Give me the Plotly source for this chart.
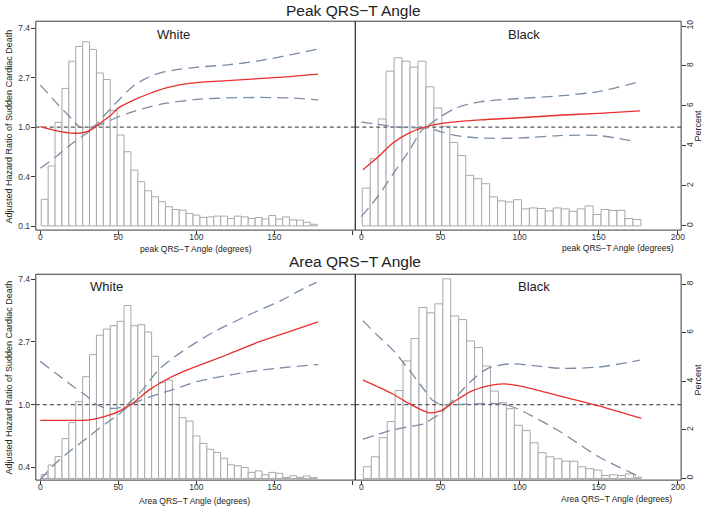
import numpy as np
import plotly.graph_objects as go

# ---------------- data ----------------
# Histograms (percent of participants per bin)
peak_white_bin_start, peak_white_bin_width = 0.6, 4.42
peak_white_pct = [1.33, 3.0, 5.18, 6.88, 8.24, 8.98, 9.21, 8.83, 7.65, 7.32,
                  5.77, 4.55, 3.71, 2.79, 2.21, 1.76, 1.46, 1.21, 0.96, 0.82,
                  0.79, 0.62, 0.54, 0.42, 0.45, 0.49, 0.49, 0.37, 0.49, 0.45,
                  0.37, 0.42, 0.35, 0.52, 0.34, 0.45, 0.30, 0.29, 0.18, 0.08]

peak_black_bin_start, peak_black_bin_width = 0.6, 5.03
peak_black_pct = [1.89, 3.36, 5.35, 7.74, 8.41, 8.24, 7.94, 8.24, 6.96, 5.9,
                  4.98, 4.17, 3.52, 2.53, 2.36, 2.11, 1.45, 1.25, 1.20, 1.31,
                  0.85, 0.90, 0.87, 0.75, 0.90, 0.85, 0.73, 0.85, 1.0, 0.57,
                  0.82, 0.77, 0.78, 0.37, 0.32]

area_white_bin_start, area_white_bin_width = 0.6, 4.42
area_white_pct = [0.16, 0.55, 0.90, 1.64, 2.30, 3.16, 4.19, 5.10, 5.90, 6.15,
                  6.29, 6.47, 7.12, 6.29, 6.33, 6.03, 5.03, 3.96, 4.05, 3.05,
                  2.50, 2.36, 1.75, 1.44, 1.20, 1.07, 0.83, 0.56, 0.52, 0.45,
                  0.25, 0.31, 0.15, 0.25, 0.21, 0.04, 0.11, 0.04, 0.10, 0.03]

area_black_bin_start, area_black_bin_width = 1.3, 5.02
area_black_pct = [0.48, 0.89, 1.68, 2.34, 3.62, 4.84, 5.76, 7.04, 6.82, 7.19,
                  8.22, 6.69, 6.54, 5.66, 5.39, 4.63, 3.6, 3.12, 2.87, 2.19,
                  1.97, 1.47, 1.06, 0.89, 0.81, 0.71, 0.71, 0.48, 0.40, 0.34,
                  0.12, 0.15, 0.12, 0.19, 0.05]

# Spline estimates: angle (degrees) and log hazard ratio
pw_hr_x = [0, 10, 20, 25, 30, 35, 40, 45, 50, 60, 70, 80, 90, 100, 120, 140, 160, 178]
pw_hr_log = [0.01, -0.07, -0.12, -0.12, -0.09, 0, 0.12, 0.235, 0.39, 0.55, 0.68, 0.79, 0.86, 0.90, 0.94, 0.98, 1.02, 1.07]
pw_up_x = [0, 10, 20, 25, 30, 35, 40, 50, 60, 70, 80, 100, 120, 140, 160, 178]
pw_up_log = [0.85, 0.5, 0.17, 0.01, -0.02, 0.03, 0.2, 0.54, 0.84, 1.02, 1.12, 1.21, 1.26, 1.34, 1.46, 1.58]
pw_lo_x = [0, 10, 20, 30, 35, 40, 50, 60, 70, 80, 100, 120, 140, 160, 178]
pw_lo_log = [-0.83, -0.6, -0.34, -0.12, 0, 0.07, 0.21, 0.32, 0.41, 0.48, 0.56, 0.59, 0.60, 0.59, 0.55]

pb_hr_x = [1, 10, 20, 30, 40, 50, 75, 100, 125, 150, 176]
pb_hr_log = [-0.86, -0.62, -0.32, -0.12, 0, 0.07, 0.146, 0.19, 0.24, 0.28, 0.33]
pb_up_x = [0, 10, 20, 30, 40, 50, 60, 75, 100, 125, 150, 176]
pb_up_log = [0.10, 0.06, 0.01, -0.005, 0, 0.21, 0.39, 0.51, 0.58, 0.63, 0.72, 0.92]
pb_lo_x = [0, 10, 20, 30, 40, 50, 60, 75, 100, 125, 150, 173]
pb_lo_log = [-1.81, -1.42, -0.95, -0.49, -0.02, -0.09, -0.17, -0.22, -0.22, -0.17, -0.17, -0.29]

aw_hr_x = [0, 20, 30, 38, 45, 50, 55, 58, 63.5, 70, 80, 90, 100, 120, 140, 160, 178]
aw_hr_log = [-0.25, -0.25, -0.245, -0.21, -0.16, -0.11, -0.04, 0, 0.11, 0.24, 0.39, 0.51, 0.61, 0.80, 1.00, 1.17, 1.32]
aw_up_x = [0, 10, 20, 30, 35, 40, 45, 50, 55, 60, 65.6, 76, 91, 112, 133.5, 155, 167, 177]
aw_up_log = [0.69, 0.50, 0.31, 0.13, 0.02, -0.04, -0.06, -0.05, -0.01, 0.10, 0.24, 0.56, 0.85, 1.17, 1.43, 1.67, 1.83, 1.95]
aw_lo_x = [0, 10, 20, 30, 38, 50, 58, 72, 85, 101, 123, 144, 178]
aw_lo_log = [-1.19, -0.93, -0.72, -0.53, -0.37, -0.16, 0, 0.14, 0.24, 0.37, 0.48, 0.56, 0.64]

ab_hr_x = [1, 10, 20, 30, 43, 50, 55, 60, 70, 80, 90, 100, 110, 125, 150, 177]
ab_hr_log = [0.39, 0.29, 0.17, 0.02, -0.13, -0.1, -0.02, 0.07, 0.22, 0.3, 0.33, 0.3, 0.24, 0.14, -0.02, -0.22]
ab_up_x = [1, 10, 20, 30, 40, 45, 50, 55, 60, 70, 80, 94, 110, 126, 150, 176]
ab_up_log = [1.34, 1.11, 0.87, 0.56, 0.23, 0.07, 0.01, 0, 0.13, 0.39, 0.58, 0.65, 0.62, 0.58, 0.6, 0.71]
ab_lo_x = [1, 10, 20, 30, 40, 45, 50, 55, 60, 70, 80, 90, 100, 125, 150, 177]
ab_lo_log = [-0.55, -0.48, -0.40, -0.35, -0.3, -0.22, -0.14, -0.02, 0, 0.01, 0.02, 0.01, -0.08, -0.42, -0.83, -1.16]

hr_tick_vals = [0.135, 0.368, 1.0, 2.718, 7.389]
hr_tick_text = ["0.1", "0.4", "1.0", "2.7", "7.4"]
x_tick_vals = [0, 50, 100, 150, 200]
pct_ticks_top = [0, 2, 4, 6, 8, 10]
pct_ticks_bottom = [0, 2, 4, 6, 8]

row_titles = ["Peak QRS\u2212T Angle", "Area QRS\u2212T Angle"]
panel_labels = ["White", "Black", "White", "Black"]
x_titles = ["peak QRS\u2212T Angle (degrees)", "peak QRS\u2212T Angle (degrees)",
            "Area QRS\u2212T Angle (degrees)", "Area QRS\u2212T Angle (degrees)"]
y_title = "Adjusted Hazard Ratio of Sudden Cardiac Death"
y2_title = "Percent"

# ---------------- layout geometry ----------------
W, H = 709, 510
FONT = "Liberation Sans, Arial, Helvetica, sans-serif"
RED = "#e8302c"
CI = "#7a8da4"
BAR_LINE = "#a8a8a8"
FRAME = "#3a3a3a"
TXT = "#222222"

col_dom = [[36 / W, 357.3 / W], [357.3 / W, 685 / W]]
row_px = [(20.3, 230.0), (274.3, 481.0)]
row_dom = [[1 - b / H, 1 - t / H] for t, b in row_px]
x_ranges = [[-2.9, 201.8], [-3.8, 202.1]]
ln_ranges = [[-2.081, 2.141], [-1.202, 2.079]]
pct_ranges = [[-0.21, 10.24], [-0.07, 8.41]]

panels = [
    dict(pct=peak_white_pct, b0=peak_white_bin_start, bw=peak_white_bin_width,
         hr=(pw_hr_x, pw_hr_log), up=(pw_up_x, pw_up_log), lo=(pw_lo_x, pw_lo_log)),
    dict(pct=peak_black_pct, b0=peak_black_bin_start, bw=peak_black_bin_width,
         hr=(pb_hr_x, pb_hr_log), up=(pb_up_x, pb_up_log), lo=(pb_lo_x, pb_lo_log)),
    dict(pct=area_white_pct, b0=area_white_bin_start, bw=area_white_bin_width,
         hr=(aw_hr_x, aw_hr_log), up=(aw_up_x, aw_up_log), lo=(aw_lo_x, aw_lo_log)),
    dict(pct=area_black_pct, b0=area_black_bin_start, bw=area_black_bin_width,
         hr=(ab_hr_x, ab_hr_log), up=(ab_up_x, ab_up_log), lo=(ab_lo_x, ab_lo_log)),
]

fig = go.Figure()
layout = dict(width=W, height=H, margin=dict(l=0, r=0, t=0, b=0),
              paper_bgcolor="white", plot_bgcolor="white", showlegend=False,
              font=dict(family=FONT, color=TXT, size=9))

tickfont = dict(family=FONT, size=8.5, color="#333333")

for i, p in enumerate(panels):
    n = i + 1
    r, c = divmod(i, 2)
    xa = "x" if n == 1 else f"x{n}"
    ya = "y" if n == 1 else f"y{n}"
    yh = f"y{n + 4}"
    # histogram on percent axis
    centers = [p["b0"] + p["bw"] * (k + 0.5) for k in range(len(p["pct"]))]
    fig.add_trace(go.Bar(x=centers, y=p["pct"], width=p["bw"], xaxis=xa, yaxis=ya,
                         marker=dict(color="white", line=dict(color=BAR_LINE, width=1))))
    # reference line HR = 1
    fig.add_trace(go.Scatter(x=x_ranges[c], y=[1, 1], mode="lines", xaxis=xa, yaxis=yh,
                             line=dict(color="#5a5a5a", width=1.3, dash="4px,3px")))
    for key, col, dash in (("up", CI, "11px,6px"), ("lo", CI, "11px,6px"), ("hr", RED, "solid")):
        xs, ls = p[key]
        fig.add_trace(go.Scatter(x=xs, y=np.exp(ls), mode="lines", xaxis=xa, yaxis=yh,
                                 line=dict(color=col, width=1.3, dash=dash,
                                           shape="spline", smoothing=0.8)))

    xkey = "xaxis" if n == 1 else f"xaxis{n}"
    ykey = "yaxis" if n == 1 else f"yaxis{n}"
    layout[xkey] = dict(domain=col_dom[c], anchor=ya, range=x_ranges[c],
                        tickvals=x_tick_vals,
                        ticktext=["0", "50", "100", "150", "" if c == 0 else "200"],
                        ticks="outside", ticklen=4, tickcolor="#333333", tickwidth=1,
                        ticklabelstandoff=-5,
                        showgrid=False, zeroline=False, showline=False,
                        tickfont=tickfont, fixedrange=True)
    pct_ticks = pct_ticks_top if r == 0 else pct_ticks_bottom
    layout[ykey] = dict(domain=row_dom[r], anchor=xa, range=pct_ranges[r],
                        side="right", visible=(c == 1),
                        tickvals=pct_ticks, ticktext=[str(v) for v in pct_ticks],
                        ticks="outside", ticklen=4, tickcolor="#333333", tickangle=-90,
                        ticklabelstandoff=-3,
                        showgrid=False, zeroline=False, showline=False,
                        tickfont=tickfont, fixedrange=True)
    layout[f"yaxis{n + 4}"] = dict(overlaying=ya, anchor=xa, type="log",
                                  range=[v / np.log(10) for v in ln_ranges[r]],
                                  side="left", visible=(c == 0),
                                  tickvals=hr_tick_vals, ticktext=hr_tick_text,
                                  ticks="outside", ticklen=4, tickcolor="#333333",
                                  ticklabelstandoff=-1,
                                  showgrid=False, zeroline=False, showline=False,
                                  tickfont=tickfont, fixedrange=True)

shapes = []
for r, (t, b) in enumerate(row_px):
    shapes.append(dict(type="rect", xref="paper", yref="paper", x0=36 / W, x1=685 / W,
                       y0=1 - b / H, y1=1 - t / H, line=dict(color=FRAME, width=1)))
    shapes.append(dict(type="line", xref="paper", yref="paper", x0=357.3 / W, x1=357.3 / W,
                       y0=1 - b / H, y1=1 - t / H, line=dict(color="#222222", width=1.2)))
layout["shapes"] = shapes

ann = []
def add_text(text, xpx, ypx, size, angle=0):
    ann.append(dict(text=text, x=xpx / W, y=1 - ypx / H, xref="paper", yref="paper",
                    showarrow=False, textangle=angle, xanchor="center", yanchor="middle",
                    font=dict(family=FONT, size=size, color=TXT)))

add_text(row_titles[0], 356, 10, 15.5)
add_text(row_titles[1], 357, 262, 15.5)
for lab, (xp, yp) in zip(panel_labels, [(174, 34), (527, 34), (107, 287), (537, 287)]):
    add_text(lab, xp, yp, 13)
for lab, (xp, yp) in zip(x_titles, [(197, 249), (622, 248), (196, 502), (620, 500)]):
    add_text(lab, xp, yp, 8.5)
add_text(y_title, 9, 126, 9, -90)
add_text(y_title, 9, 378, 9, -90)
add_text(y2_title, 701, 125, 9, -90)
add_text(y2_title, 701, 380, 9, -90)
layout["annotations"] = ann

fig.update_layout(**layout)
fig.write_html("out.html", config={"displayModeBar": False},
               post_script="document.body.style.margin='0';document.body.style.overflow='hidden';")
